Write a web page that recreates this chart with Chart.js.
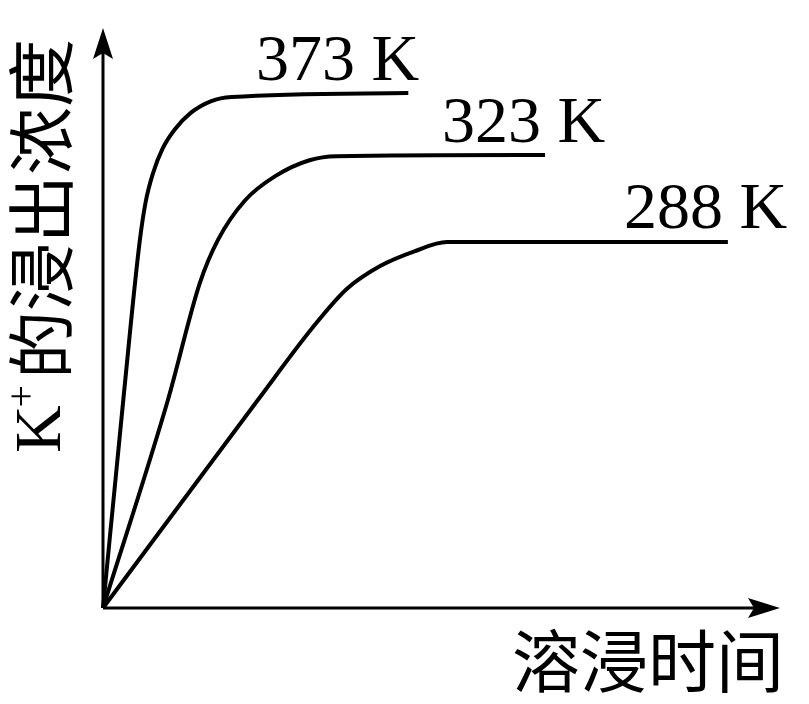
<!DOCTYPE html>
<html>
<head>
<meta charset="utf-8">
<script src="https://cdn.jsdelivr.net/npm/chart.js@4.4.1/dist/chart.umd.min.js"></script>
<style>
  html, body { margin: 0; padding: 0; background: #fff; }
  #wrap { width: 809px; height: 704px; position: relative; }
</style>
</head>
<body>
<div id="wrap"><canvas id="c"></canvas></div>
<script>
// Series (arbitrary units: time 0..100, concentration 0..100)
const seriesLabels = ['373 K', '323 K', '288 K'];
const t373 = [0, 3.0, 5.4, 6.3, 7.4, 8.8, 10.6, 13.0, 16.0, 19.0, 45.1];
const c373 = [0, 35.9, 63.0, 70.0, 75.0, 79.2, 82.5, 85.4, 87.4, 88.1, 88.8];
const t323 = [0, 9.6, 14.3, 17.0, 21.0, 25.5, 30.5, 34.5, 65.3];
const c323 = [0, 35.9, 56.0, 63.5, 70.3, 74.5, 77.2, 77.9, 78.1];
const t288 = [0, 22.9, 31.0, 36.0, 41.0, 46.0, 50.8, 92.3];
const c288 = [0, 35.9, 48.4, 55.0, 59.0, 61.5, 63.1, 63.1];
const xAxisTitle = '溶浸时间';
const yAxisTitleMain = 'K';
const yAxisTitleSup = '+';
const yAxisTitleRest = '的浸出浓度';

function pts(xs, ys) { return xs.map((x, i) => ({ x: x, y: ys[i] })); }

const curveStyle = {
  borderColor: '#000', borderWidth: 4, pointRadius: 0, fill: false,
  cubicInterpolationMode: 'monotone', clip: false
};

const decor = {
  id: 'decor',
  beforeDatasetsDraw(chart) {
    const ctx = chart.ctx, xs = chart.scales.x, ys = chart.scales.y;
    const x0 = xs.getPixelForValue(0), y0 = ys.getPixelForValue(0);
    const x1 = xs.getPixelForValue(xs.max), y1 = ys.getPixelForValue(ys.max);
    ctx.save();
    ctx.strokeStyle = '#000'; ctx.fillStyle = '#000'; ctx.lineWidth = 3;
    ctx.beginPath();
    ctx.moveTo(x0, y0); ctx.lineTo(x1 - 20, y0);
    ctx.moveTo(x0, y0); ctx.lineTo(x0, y1 + 20);
    ctx.stroke();
    // arrowheads
    ctx.beginPath();
    ctx.moveTo(x1, y0); ctx.lineTo(x1 - 32, y0 - 10); ctx.lineTo(x1 - 26, y0); ctx.lineTo(x1 - 32, y0 + 10); ctx.closePath();
    ctx.fill();
    ctx.beginPath();
    ctx.moveTo(x0, y1); ctx.lineTo(x0 - 10, y1 + 31); ctx.lineTo(x0, y1 + 25); ctx.lineTo(x0 + 10, y1 + 31); ctx.closePath();
    ctx.fill();
    ctx.restore();
  },
  afterDraw(chart) {
    const ctx = chart.ctx;
    ctx.save();
    ctx.fillStyle = '#000';
    ctx.textBaseline = 'alphabetic';
    ctx.textAlign = 'left';
    ctx.font = '66px "Liberation Serif", serif';
    const pos = [[256, 80], [442, 142], [624, 228]];
    seriesLabels.forEach((s, i) => ctx.fillText(s, pos[i][0], pos[i][1]));
    // x title
    ctx.font = '68px "Noto Sans CJK SC", sans-serif';
    ctx.textAlign = 'center'; ctx.textBaseline = 'middle';
    ctx.fillText(xAxisTitle, 648, 661);
    // y title rotated
    ctx.translate(41, 246);
    ctx.rotate(-Math.PI / 2);
    ctx.textBaseline = 'middle'; ctx.textAlign = 'left';
    const fK = '66px "Liberation Serif", serif';
    const fS = '40px "Liberation Serif", serif';
    const fC = '68px "Noto Sans CJK SC", sans-serif';
    ctx.font = fK; const wK = ctx.measureText(yAxisTitleMain).width;
    ctx.font = fS; const wS = ctx.measureText(yAxisTitleSup).width;
    ctx.font = fC; const wC = ctx.measureText(yAxisTitleRest).width;
    const total = wK + wS + 4 + wC;
    let cx = -total / 2;
    ctx.font = fK; ctx.fillText(yAxisTitleMain, cx, 2); cx += wK;
    ctx.font = fS; ctx.fillText(yAxisTitleSup, cx - 2, -18); cx += wS + 4;
    ctx.font = fC; ctx.fillText(yAxisTitleRest, cx, 0);
    ctx.restore();
  }
};

new Chart(document.getElementById('c'), {
  type: 'line',
  data: {
    datasets: [
      Object.assign({ label: seriesLabels[0], data: pts(t373, c373) }, curveStyle),
      Object.assign({ label: seriesLabels[1], data: pts(t323, c323) }, curveStyle),
      Object.assign({ label: seriesLabels[2], data: pts(t288, c288) }, curveStyle)
    ]
  },
  options: {
    responsive: true, maintainAspectRatio: false, animation: false,
    layout: { padding: { left: 103, right: 29, top: 28, bottom: 96 } },
    plugins: { legend: { display: false }, tooltip: { enabled: false } },
    scales: {
      x: { type: 'linear', min: 0, max: 100, display: false },
      y: { type: 'linear', min: 0, max: 100, display: false }
    }
  },
  plugins: [decor]
});
</script>
</body>
</html>
